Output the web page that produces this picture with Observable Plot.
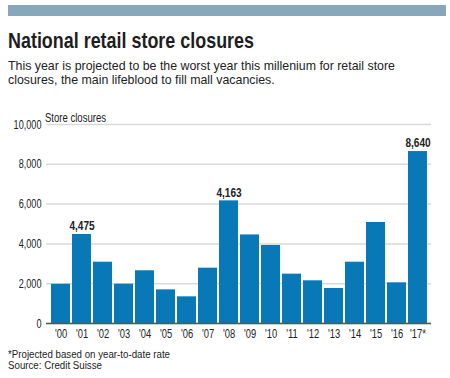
<!DOCTYPE html>
<html><head><meta charset="utf-8">
<script src="https://cdn.jsdelivr.net/npm/d3@7"></script>
<script src="https://cdn.jsdelivr.net/npm/@observablehq/plot@0.6"></script>
<style>
body{margin:0;background:#fff;}
#wrap{position:relative;width:450px;height:378px;overflow:hidden;font-family:"Liberation Sans",Arial,sans-serif;color:#222;}
#band{position:absolute;left:8px;top:5px;width:438px;height:11px;background:#87a8ba;}
.fit{position:absolute;left:8px;white-space:nowrap;transform-origin:0 50%;}
#title{top:29.7px;font-weight:bold;font-size:22px;line-height:22px;color:#1e1e1e;}
.sub{font-size:13px;line-height:14px;color:#222;}
.foot{font-size:10px;line-height:11px;color:#222;}
#ylab{left:45px;top:112px;font-size:12.5px;line-height:12.5px;}
#chart{position:absolute;left:0;top:100px;}
</style></head>
<body><div id="wrap">
<div id="band"></div>
<div id="chart"></div>
<div id="title" class="fit" data-w="246">National retail store closures</div>
<div class="fit sub" style="top:58.5px" data-w="387">This year is projected to be the worst year this millenium for retail store</div>
<div class="fit sub" style="top:72.5px" data-ref="1">closures, the main lifeblood to fill mall vacancies.</div>
<div id="ylab" class="fit" data-w="61">Store closures</div>
<div class="fit foot" style="top:348.8px" data-w="162">*Projected based on year-to-date rate</div>
<div class="fit foot" style="top:359.8px" data-ref="1">Source: Credit Suisse</div>
</div>
<script>
const years = ["'00","'01","'02","'03","'04","'05","'06","'07","'08","'09","'10","'11","'12","'13","'14","'15","'16","'17*"];
const closures = [1970,4475,3080,1975,2650,1690,1340,2780,6163,4450,3920,2480,2145,1760,3080,5075,2045,8640];
const labelYears = ["'01","'08","'17*"];
const labelTexts = ["4,475","4,163","8,640"];
const labelValues = [4475,6163,8640];
const yTicks = [0,2000,4000,6000,8000,10000];

const data = years.map((y,i)=>({year:y,value:closures[i]}));
const labels = labelYears.map((y,i)=>({year:y,value:labelValues[i],text:labelTexts[i]}));

const chart = Plot.plot({
  width:450, height:245,
  marginTop:24, marginBottom:22, marginLeft:46, marginRight:19,
  style:{fontFamily:"'Liberation Sans',Arial,sans-serif", fontSize:"12px", color:"#222", background:"transparent"},
  x:{type:"band", domain:years, padding:0.1, label:null},
  y:{domain:[0,10000], label:null},
  marks:[
    Plot.gridY(yTicks,{stroke:"#d9d9d9", strokeOpacity:1, strokeWidth:1.5}),
    Plot.barY(data,{x:"year", y:"value", fill:"#0878b6"}),
    Plot.ruleY([0],{stroke:"#555", strokeWidth:1.5}),
    Plot.axisY({ticks:yTicks, tickSize:0, tickPadding:5, tickFormat:d3.format(","), fontSize:12.5, label:null, className:"yax"}),
    Plot.axisX({tickSize:0, tickPadding:6, fontSize:12.5, label:null, className:"xax"}),
    Plot.text(labels,{x:"year", y:"value", text:"text", dy:-8, fontWeight:"bold", fontSize:12, fill:"#222", className:"vlab"})
  ]
});
document.getElementById("chart").appendChild(chart);

// condense SVG text to match the narrow face of the original
function condense(sel, s){
  chart.querySelectorAll(sel).forEach(t=>{
    const tr = t.getAttribute("transform") || "";
    t.setAttribute("transform", tr + ` scale(${s},1)`);
  });
}
condense(".yax text", 0.73);
condense(".xax text", 0.75);
condense(".vlab text", 0.84);

// fit HTML lines horizontally
let last = 1;
document.querySelectorAll(".fit").forEach(el=>{
  const w = el.getBoundingClientRect().width;
  let s = last;
  if (el.dataset.w) { s = (+el.dataset.w)/w; last = s; }
  el.style.transform = `scaleX(${s})`;
});
</script>
</body></html>
